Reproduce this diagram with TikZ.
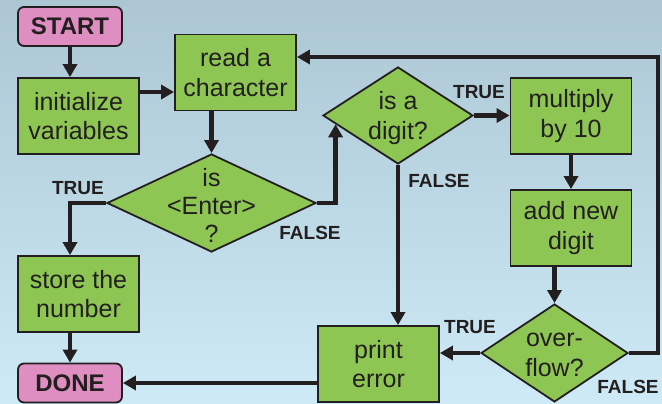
\documentclass[tikz,border=0pt]{standalone}
\usepackage{fontspec}
\setmainfont{Liberation Sans}
\usetikzlibrary{shapes.geometric,arrows.meta}
\definecolor{bgtop}{RGB}{172,198,212}
\definecolor{bgbot}{RGB}{206,234,246}
\definecolor{boxgreen}{RGB}{141,198,83}
\definecolor{termpink}{RGB}{222,142,192}
\definecolor{ink}{RGB}{35,31,32}
\tikzset{
  box/.style={draw=ink, line width=1.8pt, fill=boxgreen, minimum width=121pt, minimum height=76pt,
    inner sep=0pt, align=center, text=ink, font=\fontsize{25}{29.5}\selectfont},
  term/.style={draw=ink, line width=1.8pt, fill=termpink, rounded corners=6pt, minimum width=104pt,
    minimum height=39pt, inner sep=0pt, text=ink, font=\fontsize{24}{29}\selectfont\bfseries},
  decision/.style={diamond, draw=ink, line width=1.8pt, fill=boxgreen, inner sep=0pt},
  dtext/.style={align=center, text=ink, inner sep=0pt, font=\fontsize{25}{29.5}\selectfont},
  lbl/.style={text=ink, inner sep=0pt, font=\fontsize{19}{22}\selectfont\bfseries},
  arr/.style={draw=ink, line width=4.6pt, line join=miter, -{Triangle[length=13pt,width=14pt]}},
}
\begin{document}
\begin{tikzpicture}[x=1pt,y=-1pt]
\shade[top color=bgtop, bottom color=bgbot] (0,0) rectangle (662,404);
\useasboundingbox (0,0) rectangle (662,404);

% nodes
\node[term] (start) at (70,26.5) {START};
\node[box] (init) at (78.5,116) {initialize\\variables};
\node[box] (read) at (235.5,72.5) {read a\\character};
\node[decision, minimum width=209pt, minimum height=98pt] (enter) at (211.5,203) {};
\node[dtext, font=\fontsize{25}{28}\selectfont] (entert) at (211.5,205) {is\\<Enter>\\?};
\node[box] (store) at (78.5,294) {store the\\number};
\node[term] (done) at (70,383) {DONE};
\node[decision, minimum width=150pt, minimum height=97pt] (digit) at (398,115.5) {};
\node[dtext] (digitt) at (398,118) {is a\\digit?};
\node[box] (mult) at (571,116) {multiply\\by 10};
\node[box] (add) at (571,228) {add new\\digit};
\node[decision, minimum width=147pt, minimum height=98pt] (over) at (554.5,353) {};
\node[dtext] (overt) at (554.5,355) {over-\\flow?};
\node[box] (print) at (378.5,364) {print\\error};
\coordinate (corner) at (658,57);

% labels
\node[lbl] (t1) at (78,188) {TRUE};
\node[lbl] (f1) at (310,233) {FALSE};
\node[lbl] (t2) at (479,92) {TRUE};
\node[lbl] (f2) at (439,181) {FALSE};
\node[lbl] (t3) at (470,327) {TRUE};
\node[lbl] (f3) at (628,387) {FALSE};

% connectors
\draw[arr] (start.south) -- (start.south |- init.north);
\draw[arr] ([yshift=24pt]init.east) -- ([yshift=24pt]init.east -| read.west);
\draw[arr] (read.south -| enter.north) -- (enter.north);
\draw[arr] (enter.west) -| ([xshift=-8.5pt]store.north);
\draw[arr] (store.south -| done.north) -- (done.north);
\draw[arr] (enter.east) -| (digit.188.85);
\draw[arr] (digit.east) -- (digit.east -| mult.west);
\draw[arr] (digit.south) -- (digit.south |- print.north);
\draw[arr] (mult.south) -- (add.north);
\draw[arr] (add.south -| over.north) -- (over.north);
\draw[arr] (over.west) -- (over.west -| print.east);
\draw[arr] (over.east) -| (corner) -- (corner -| read.east);
\draw[arr] (print.west |- done.east) -- (done.east);
\end{tikzpicture}
\end{document}
